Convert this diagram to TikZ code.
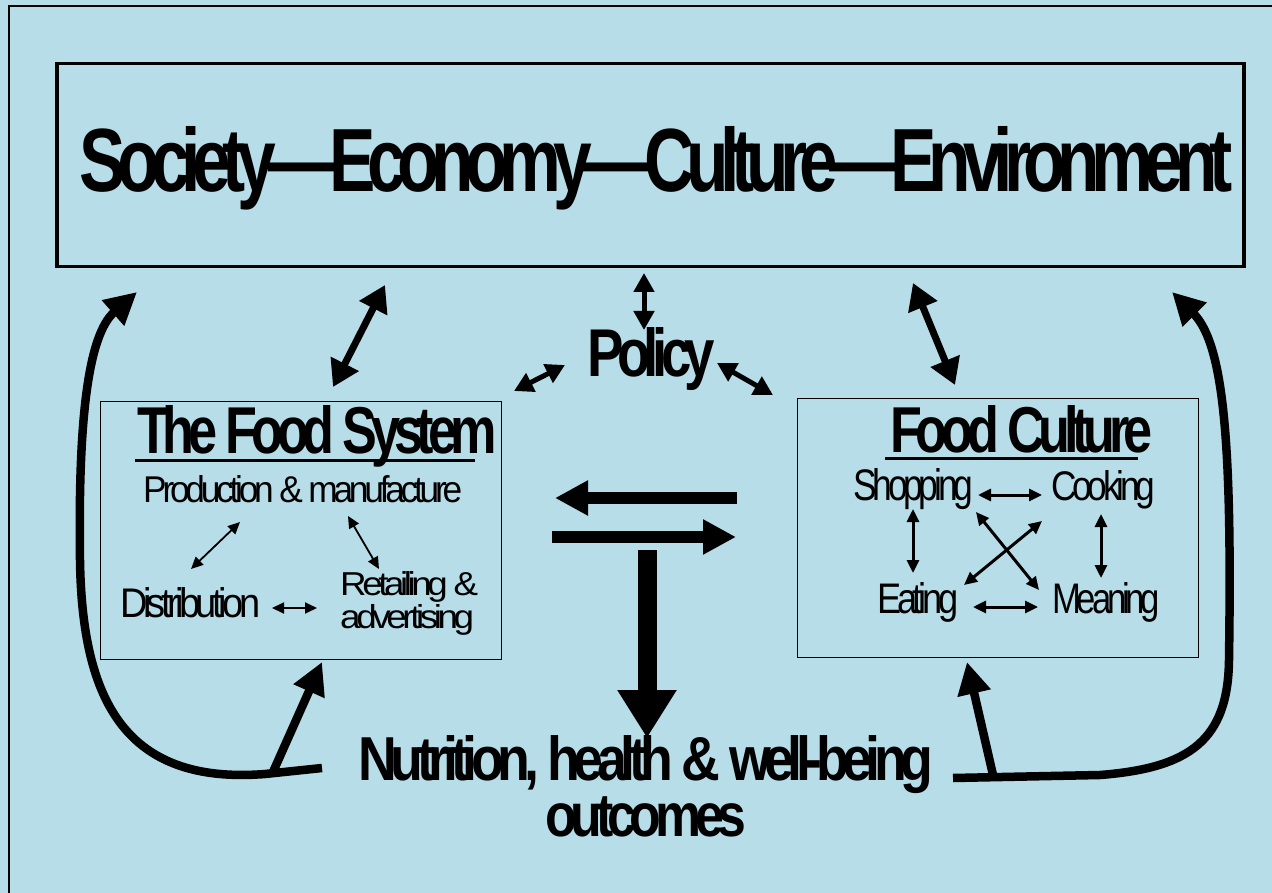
\documentclass[tikz,border=0pt]{standalone}
\usepackage{fontspec}
\setmainfont{Liberation Sans}[LetterSpace=-12]
\usetikzlibrary{arrows.meta}
\definecolor{bg}{RGB}{183,221,232}
\newcommand{\fitt}[3]{\resizebox{#1pt}{#2pt}{\vphantom{X}#3}}
\tikzset{
  txt/.style={inner sep=0pt, anchor=base west},
  boxthin/.style={draw, line width=1pt, inner sep=0pt, anchor=north west},
  dthin/.style={line width=1.8pt, {Triangle[length=12pt,width=11pt]}-{Triangle[length=12pt,width=11pt]}},
  dmed/.style={line width=3pt, {Triangle[length=13pt,width=12pt]}-{Triangle[length=13pt,width=12pt]}},
  dpol/.style={line width=5pt, {Triangle[length=19pt,width=20pt]}-{Triangle[length=19pt,width=20pt]}},
  dbig/.style={line width=7pt, {Triangle[length=26pt,width=30pt]}-{Triangle[length=26pt,width=30pt]}},
  feed/.style={line width=8.5pt, -{Triangle[length=32pt,width=32pt]}},
}
\begin{document}
\begin{tikzpicture}[x=1pt,y=-1pt]
\useasboundingbox (0,0) rectangle (1272,893);
\fill[bg] (0,0) rectangle (1272,893);
\draw[line width=1.2pt] (9,893) -- (9,6) -- (1272,6);

% top box
\node (top) [draw, line width=3.5pt, inner sep=0pt, anchor=north west, minimum width=1187pt, minimum height=203pt] at (55,62) {};
\node[txt] (soc) at (79,192) {\fitt{1153}{65}{\bfseries Society—Economy—Culture—Environment}};

% food system box
\node (fs) [boxthin, minimum width=401pt, minimum height=258pt] at (100,401) {};
\node[txt] (fst) at (137,453) {\fitt{360}{48}{\bfseries The Food System}};
\draw[line width=3pt] (135,460) -- (475,460);
\node[txt] (prod) at (143,502) {\fitt{319}{27}{Production \& manufacture}};
\node[txt] (dist) at (120,617) {\fitt{140}{30}{Distribution}};
\node (ret) [inner sep=0pt, anchor=north west, align=left,
  font={\fontsize{10}{33}\selectfont\lineskiplimit=-100pt}] at (340,571)
  {\fitt{138}{24}{Retailing \&}\\\fitt{134}{24}{advertising}};
\coordinate (p1) at (240,522); \coordinate (d1) at (191,569);
\coordinate (p2) at (348,516); \coordinate (r1) at (379,569);
\coordinate (d2) at (272,608); \coordinate (r2) at (317,608);
\draw[dthin] (p1) -- (d1);
\draw[dthin] (p2) -- (r1);
\draw[dthin] (d2) -- (r2);

% food culture box
\node (fc) [boxthin, minimum width=401pt, minimum height=259pt] at (797,398) {};
\node[txt] (fct) at (890,452) {\fitt{262}{47}{\bfseries Food Culture}};
\draw[line width=3pt] (885,458) -- (1138,458);
\node[txt] (shop) at (853,500) {\fitt{120}{32}{Shopping}};
\node[txt] (cook) at (1051,500) {\fitt{104}{30}{Cooking}};
\node[txt] (eat) at (877,613) {\fitt{81}{31}{Eating}};
\node[txt] (mean) at (1052,613) {\fitt{108}{31}{Meaning}};
\coordinate (s1) at (978,495); \coordinate (c1) at (1042,495);
\coordinate (e1) at (973,607); \coordinate (m1) at (1038,607);
\coordinate (s2) at (913,509); \coordinate (e2) at (913,573);
\coordinate (c2) at (1101,514); \coordinate (m2) at (1101,578);
\coordinate (s3) at (976,512); \coordinate (m3) at (1039,590);
\coordinate (c3) at (1042,521); \coordinate (e3) at (964,585);
\draw[dmed] (s1) -- (c1);
\draw[dmed] (e1) -- (m1);
\draw[dmed] (s2) -- (e2);
\draw[dmed] (c2) -- (m2);
\draw[dmed] (s3) -- (m3);
\draw[dmed] (c3) -- (e3);

% policy
\node[txt] (pol) at (587,377) {\fitt{128}{49}{\bfseries Policy}};
\coordinate (pu1) at (644,273); \coordinate (pu2) at (644,330);
\coordinate (pl1) at (565,365); \coordinate (pl2) at (514,391);
\coordinate (pr1) at (717,363); \coordinate (pr2) at (773,395);
\draw[dpol] (pu1) -- (pu2);
\draw[dpol] (pl1) -- (pl2);
\draw[dpol] (pr1) -- (pr2);

% society <-> boxes
\coordinate (tl1) at (385,285); \coordinate (tl2) at (333,387);
\coordinate (tr1) at (913,283); \coordinate (tr2) at (955,385);
\draw[dbig] (tl1) -- (tl2);
\draw[dbig] (tr1) -- (tr2);

% central arrows
\coordinate (ha1) at (737,498); \coordinate (ha2) at (555,498);
\coordinate (hb1) at (552,537); \coordinate (hb2) at (736,537);
\coordinate (va1) at (647,550); \coordinate (va2) at (647,738);
\draw[line width=12pt, -{Triangle[length=33pt,width=33pt]}] (ha1) -- (ha2);
\draw[line width=12pt, -{Triangle[length=33pt,width=33pt]}] (hb1) -- (hb2);
\draw[line width=19pt, -{Triangle[length=48pt,width=56pt]}] (va1) -- (va2);

% outcomes
\node (nut) [inner sep=0pt, anchor=north, align=center,
  font={\fontsize{10}{56}\selectfont\lineskiplimit=-100pt}] at (646,735)
  {\fitt{575}{45}{\bfseries Nutrition, health \& well-being}\\\fitt{201}{42}{\bfseries outcomes}};

% feedback loops
\coordinate (ls) at (322,768);
\coordinate (lt) at (137,292);
\coordinate (lb) at (273,772);
\coordinate (lu) at (322,662);
\draw[feed] (ls) -- (265,774) .. controls (125,785) and (82,700) .. (80,560) .. controls (78,420) and (88,335) .. (lt);
\draw[feed] (lb) -- (lu);
\coordinate (rs) at (953,778);
\coordinate (rt) at (1172,292);
\coordinate (rb) at (993,775);
\coordinate (ru) at (967,662);
\draw[feed] (rs) -- (1100,775) .. controls (1190,768) and (1228,740) .. (1229,660) .. controls (1232,450) and (1225,345) .. (rt);
\draw[feed] (rb) -- (ru);
\end{tikzpicture}
\end{document}
